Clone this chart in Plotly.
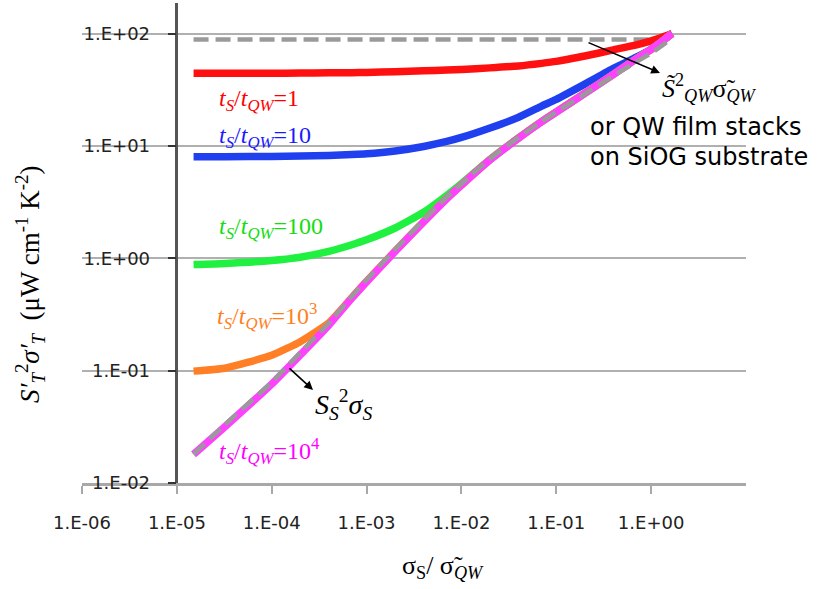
import plotly.graph_objects as go

# sigma_S / sigma~_QW (x) and the power factor of each stack (y, uW cm^-1 K^-2)
sigma_ratio = [1.5e-5, 3.2e-5, 1e-4, 2e-4, 4e-4, 7e-4, 1e-3, 2e-3, 4e-3, 7e-3,
               1e-2, 2e-2, 4e-2, 7e-2, 0.1, 0.2, 0.4, 0.7, 1.0, 1.3, 1.66]

pf_ratio_1 = [44.3, 44.3, 44.4, 44.5, 44.7, 44.9, 45.1, 45.7, 46.6, 47.3,
              48.0, 49.5, 51.5, 54.3, 56.5, 63.1, 71.6, 79.4, 86.1, 92.5, 100.0]
pf_ratio_10 = [8.0, 8.02, 8.07, 8.13, 8.22, 8.37, 8.51, 9.02, 9.89, 10.96,
               11.9, 14.45, 18.0, 22.6, 26.0, 35.5, 49.0, 61.7, 72.8, 85.3, 100.0]
pf_ratio_100 = [0.88, 0.90, 0.955, 1.02, 1.15, 1.32, 1.46, 1.86, 2.57, 3.63,
                4.62, 7.59, 11.8, 16.5, 20.05, 29.45, 43.35, 59.75, 72.45, 85.05, 100.0]
pf_ratio_1e3 = [0.099, 0.105, 0.137, 0.181, 0.266, 0.447, 0.624, 1.16, 2.12, 3.40,
                4.49, 7.53, 11.75, 16.45, 20.05, 29.45, 43.35, 59.75, 72.45, 85.05, 100.0]
pf_ratio_1e4 = [0.018, 0.0316, 0.0759, 0.138, 0.254, 0.442, 0.617, 1.15, 2.11, 3.39,
                4.47, 7.5, 11.7, 16.4, 20.0, 29.4, 43.3, 59.7, 72.4, 85.0, 100.0]
pf_substrate = [0.018, 0.033, 0.079, 0.145, 0.265, 0.46, 0.645, 1.2, 2.2, 3.5,
                4.6, 7.7, 11.9, 16.5, 20.0, 29.0, 42.0, 56.0, 67.0, 78.0, 92.0]

qw_ratio = [1.5e-5, 1.5]
pf_qw = [88.5, 88.5]

x_tick_vals = [1e-6, 1e-5, 1e-4, 1e-3, 1e-2, 1e-1, 1e0]
x_tick_text = ["1.E-06", "1.E-05", "1.E-04", "1.E-03", "1.E-02", "1.E-01", "1.E+00"]
y_tick_vals = [1e-2, 1e-1, 1e0, 1e1, 1e2]
y_tick_text = ["1.E-02", "1.E-01", "1.E+00", "1.E+01", "1.E+02"]

W, H = 817, 589
L, R, T, B = 82, 71, 3, 106
PW, PH = W - L - R, H - T - B


def px(x):
    return (x - L) / PW


def py(y):
    return (H - B - y) / PH


SERIF = "Liberation Serif"
SANS = "DejaVu Sans"

fig = go.Figure()

fig.add_trace(go.Scatter(x=qw_ratio, y=pf_qw, mode="lines",
                         line=dict(color="#9a9a9a", width=4.5, dash="15px,7px")))

curves = [
    (pf_ratio_1, "#ff1010"),
    (pf_ratio_10, "#2040f0"),
    (pf_ratio_100, "#20f040"),
    (pf_ratio_1e3, "#ff7f27"),
    (pf_ratio_1e4, "#ff40ff"),
]
for vals, col in curves:
    fig.add_trace(go.Scatter(x=sigma_ratio, y=vals, mode="lines",
                             line=dict(color=col, width=7.5, shape="spline", smoothing=0.5)))

fig.add_trace(go.Scatter(x=sigma_ratio, y=pf_substrate, mode="lines",
                         line=dict(color="#9a9a9a", width=4.5, dash="15px,7px",
                                   shape="spline", smoothing=0.5)))

ann = []

label_font = 24
labels = [
    ("=1", "#ff0000", 217, 100),
    ("=10", "#1a1aff", 217, 137),
    ("=100", "#11dd11", 217, 228),
    ("=10<sup>3</sup>", "#ff7f1e", 215, 316),
    ("=10<sup>4</sup>", "#ff00ff", 217, 451),
]
for tail, col, x0, y0 in labels:
    ann.append(dict(
        text="<i>t</i><sub><i>S</i></sub>/<i>t</i><sub><i>QW</i></sub>" + tail,
        xref="paper", yref="paper", x=px(x0), y=py(y0), xanchor="left", yanchor="middle",
        showarrow=False, font=dict(family=SERIF, size=label_font, color=col)))

ann.append(dict(
    text="<i>S</i><sub><i>S</i></sub><sup>2</sup><i>σ</i><sub><i>S</i></sub>",
    xref="paper", yref="paper", x=px(313), y=py(404), xanchor="left", yanchor="middle",
    showarrow=False, font=dict(family=SERIF, size=28, color="#000")))
ann.append(dict(
    text="<i>S̃</i><sup>2</sup><sub><i>QW</i></sub>σ̃<sub><i>QW</i></sub>",
    xref="paper", yref="paper", x=px(660), y=py(88), xanchor="left", yanchor="middle",
    showarrow=False, font=dict(family=SERIF, size=26, color="#000")))
ann.append(dict(
    text="or QW film stacks", xref="paper", yref="paper", x=px(588), y=py(127),
    xanchor="left", yanchor="middle", showarrow=False,
    font=dict(family=SANS, size=24, color="#000")))
ann.append(dict(
    text="on SiOG substrate", xref="paper", yref="paper", x=px(588), y=py(157),
    xanchor="left", yanchor="middle", showarrow=False,
    font=dict(family=SANS, size=24, color="#000")))

# pointer arrows
for (hx, hy), (tx, ty) in [((660, 73), (587, 42)), ((313, 390), (288, 367))]:
    ann.append(dict(
        text="", xref="paper", yref="paper", x=px(hx), y=py(hy),
        axref="pixel", ayref="pixel", ax=tx - hx, ay=ty - hy,
        showarrow=True, arrowhead=2, arrowsize=1.1, arrowwidth=1.6, arrowcolor="#000"))

# axis titles
ann.append(dict(
    text="σ<sub>S</sub>/ σ̃<sub><i>QW</i></sub>",
    xref="paper", yref="paper", x=px(443), y=py(567), xanchor="center", yanchor="middle",
    showarrow=False, font=dict(family=SERIF, size=26, color="#000")))
ann.append(dict(
    text="<i>S′</i><sub><i>T</i></sub><sup>2</sup><i>σ′</i><sub><i>T</i></sub>"
         "  (μW cm<sup>-1</sup> K<sup>-2</sup>)",
    xref="paper", yref="paper", x=px(30), y=py(284), xanchor="center", yanchor="middle",
    textangle=-90, showarrow=False, font=dict(family=SERIF, size=27, color="#000")))

fig.update_layout(
    width=W, height=H,
    margin=dict(l=L, r=R, t=T, b=B),
    paper_bgcolor="white", plot_bgcolor="white",
    showlegend=False,
    annotations=ann,
    xaxis=dict(
        type="log", range=[-6, 1],
        tickvals=x_tick_vals, ticktext=x_tick_text,
        ticks="outside", ticklen=8, tickwidth=2, tickcolor="#a8a8a8",
        showline=True, linecolor="#a8a8a8", linewidth=2.5,
        showgrid=False, zeroline=False,
        tickfont=dict(family=SANS, size=18, color="#222"),
        ticklabelstandoff=14,
    ),
    yaxis=dict(
        type="log", range=[-2, 2.272],
        anchor="free", position=(176.4 - L) / PW,
        tickvals=y_tick_vals, ticktext=y_tick_text,
        ticks="outside", ticklen=8, tickwidth=2, tickcolor="#333",
        showline=True, linecolor="#555", linewidth=2.5,
        showgrid=True, gridcolor="#b0b0b0", gridwidth=1.5,
        zeroline=False,
        tickfont=dict(family=SANS, size=18, color="#222"),
        ticklabelstandoff=14,
    ),
)

fig.write_html("out.html")
